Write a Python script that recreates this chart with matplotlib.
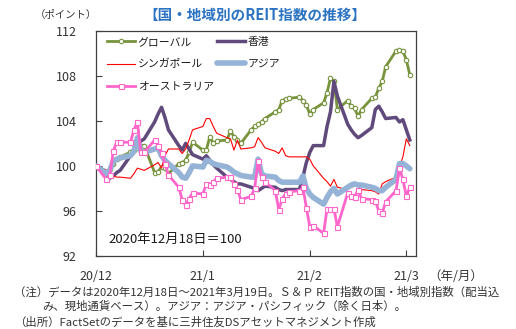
import matplotlib
matplotlib.use("Agg")
import matplotlib.pyplot as plt
import pandas as pd

plt.rcParams['font.family'] = ['Noto Sans CJK JP', 'DejaVu Sans']

dates = pd.bdate_range('2020-12-18', '2021-03-19')

global_reit = [100.0, 99.3, 99.7, 100.2, 100.6, 100.8, 101.2, 101.4, 101.6, 101.8, 101.8,
               99.4, 99.5, 99.9, 99.8, 99.3,
               100.2, 100.3, 100.5, 101.2, 102.1,
               101.4, 101.4, 102.6, 102.0, 102.2,
               102.3, 103.1, 102.6, 102.3, 102.0,
               103.2, 103.5, 103.7, 103.9, 104.2,
               104.8, 105.0, 105.8, 105.9, 106.0,
               106.1, 105.8, 105.4, 104.6, 105.0,
               105.6, 106.5, 107.8, 107.5, 105.0,
               105.8, 105.3, 105.1, 104.4, 105.0,
               106.0, 106.1, 106.9, 107.5, 108.8,
               110.2, 110.3, 110.2, 109.4, 108.1]

hongkong = [100.0, 99.5, 98.9, 99.1, 99.4, 99.6, 100.9, 101.5, 102.0, 102.2, 102.4,
            103.9, 104.6, 105.2, 104.3, 103.2,
            101.8, 101.4, 102.0, 101.5, 101.0,
            100.6, 100.9, 100.5, 100.1, 99.8,
            99.0, 98.8, 98.6, 98.4, 98.4,
            98.1, 98.0, 97.8, 98.0, 98.2,
            98.1, 97.9, 97.8, 97.9, 97.9,
            97.9, 99.0, 100.3, 101.2, 101.8,
            101.8, 103.5, 104.8, 107.5, 106.2,
            103.7, 103.2, 102.8, 102.5, 102.7,
            103.4, 105.0, 105.3, 104.8, 104.2,
            104.3, 103.9, 104.1, 103.2, 102.3]

singapore = [100.0, 99.6, 99.2, 99.1, 99.0, 99.0, 98.9, 99.3, 99.8, 99.7, 99.6,
             100.1, 100.3, 99.8, 100.9, 101.5,
             101.5, 101.1, 101.5, 102.3, 103.2,
             103.5, 104.2, 104.2, 103.5, 102.9,
             102.5, 102.4, 101.4, 102.3, 101.5,
             101.6, 101.7, 102.5, 102.1, 101.6,
             101.3, 101.1, 101.6, 100.9, 100.8,
             100.8, 100.8, 100.8, 100.6, 100.0,
             98.9, 98.6, 98.2, 98.8, 98.1,
             97.9, 98.1, 98.2, 98.2, 97.9,
             97.8, 97.7, 97.5, 98.4, 98.6,
             99.0, 99.9, 100.8, 102.4, 101.8]

asia = [100.0, 99.3, 99.6, 100.4, 100.6, 100.7, 100.9, 101.3, 102.5, 101.3, 101.2,
        101.5, 101.6, 100.9, 100.5, 100.2,
        99.4, 99.0, 98.9, 99.4, 100.0,
        99.9, 100.5, 100.4, 100.2, 100.1,
        99.9, 99.7, 99.45, 99.3, 99.15,
        99.0, 99.0, 100.6, 99.3, 99.1,
        99.0, 98.7, 98.55, 98.55, 98.55,
        98.55, 99.1, 98.0, 97.5, 97.2,
        96.6, 97.2, 97.7, 98.0, 97.5,
        98.1, 98.3, 98.4, 98.3, 98.3,
        98.1, 98.0, 97.8, 97.8, 98.1,
        98.8, 100.2, 100.2, 100.0, 99.75]

australia = [100.0, 98.8, 99.2, 101.3, 102.1, 102.1, 102.1, 103.2, 103.9, 101.2, 101.2,
             102.3, 101.8, 101.1, 100.2, 99.2,
             98.1, 97.0, 96.5, 97.1, 97.6,
             97.5, 98.4, 98.3, 98.6, 98.9,
             99.0, 99.0, 98.4, 97.9, 97.0,
             97.3, 98.0, 100.4, 99.0, 98.6,
             97.8, 96.1, 97.1, 97.5, 97.7,
             97.8, 98.1, 96.3, 94.6, 94.7,
             94.0, 96.2, 96.2, 96.2, 94.6,
             97.6, 97.3, 97.2, 97.9, 97.1,
             97.0, 96.9, 96.0, 95.8, 96.8,
             97.8, 99.8, 98.8, 97.3, 98.1]

names = ['グローバル', '香港', 'シンガポール', 'アジア', 'オーストラリア']
x_ticks = ['2020-12-18', '2021-01-18', '2021-02-18', '2021-03-18']
x_labels = ['20/12', '21/1', '21/2', '21/3']
y_ticks = [92, 96, 100, 104, 108, 112]

fig = plt.figure(figsize=(5.16, 3.29), dpi=100)
ax = fig.add_axes([96/516, 1-256/329, 320/516, (256-30.7)/329])

h_g, = ax.plot(dates, global_reit, color='#77933C', lw=2, marker='o', ms=3.2,
               mfc='white', mec='#77933C', mew=0.8, zorder=2)
h_h, = ax.plot(dates, hongkong, color='#604A7B', lw=2.5, zorder=3)
h_s, = ax.plot(dates, singapore, color='#FF0000', lw=0.8, zorder=4)
h_a, = ax.plot(dates, asia, color='#95B3D7', lw=4, zorder=5, solid_capstyle='round')
h_au, = ax.plot(dates, australia, color='#FF66CC', lw=2, marker='s', ms=3.6,
                mfc='white', mec='#FF66CC', mew=0.8, zorder=6)

start = pd.Timestamp('2020-12-18')
ax.set_xlim(start, start + pd.Timedelta(days=92.8))
ax.set_ylim(92, 112)
ax.set_yticks(y_ticks)
ax.set_yticklabels([str(v) for v in y_ticks])
ax.set_xticks(pd.to_datetime(x_ticks))
ax.set_xticklabels(x_labels)

tc = '#333333'
ax.tick_params(axis='both', direction='in', length=4, width=0.8, color='#404040',
               labelsize=9, labelcolor=tc)
ax.tick_params(axis='y', pad=14)
ax.tick_params(axis='x', pad=10)
for s in ax.spines.values():
    s.set_color('#404040')
    s.set_linewidth(0.9)

leg = ax.legend([h_g, h_s, h_au, h_h, h_a],
                [names[0], names[2], names[4], names[1], names[3]],
                ncol=2, loc='upper left', bbox_to_anchor=(0.033, 0.972),
                frameon=False, fontsize=7.8, handlelength=2.6, handletextpad=0.28,
                columnspacing=0.25, labelspacing=1.1, borderpad=0, borderaxespad=0)
for t in leg.get_texts():
    t.set_color('#1a1a1a')

fig.text(0.494, 1-15/329, '【国・地域別のREIT指数の推移】', ha='center', va='center',
         fontsize=10.5, fontweight='bold', color='#2C73C2')
fig.text(66/516, 1-15/329, '（ポイント）', ha='center', va='center', fontsize=7.5, color=tc)
fig.text(428/516, 1-276/329, '（年/月）', ha='left', va='center', fontsize=9, color=tc)
fig.text(108/516, 1-239/329, '2020年12月18日＝100', ha='left', va='center',
         fontsize=9.5, color='#1a1a1a')

fig.text(14/516, 1-292/329,
         '（注）データは2020年12月18日～2021年3月19日。Ｓ＆Ｐ REIT指数の国・地域別指数（配当込',
         ha='left', va='center', fontsize=8.2, color=tc)
fig.text(42/516, 1-306/329,
         'み、現地通貨ベース）。アジア：アジア・パシフィック（除く日本）。',
         ha='left', va='center', fontsize=8.2, color=tc)
fig.text(14/516, 1-322/329,
         '（出所）FactSetのデータを基に三井住友DSアセットマネジメント作成',
         ha='left', va='center', fontsize=8.2, color=tc)

fig.savefig('out.png', dpi=100)
